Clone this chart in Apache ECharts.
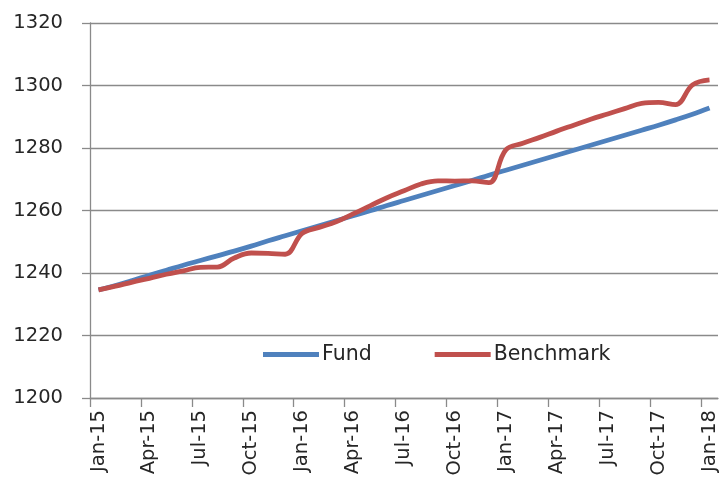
<!DOCTYPE html>
<html>
<head>
<meta charset="utf-8">
<script src="https://cdn.jsdelivr.net/npm/echarts@6/dist/echarts.min.js"></script>
<style>
  html, body { margin: 0; padding: 0; background: #fff; }
  #chart { width: 720px; height: 485px; }
</style>
</head>
<body>
<div id="chart"></div>
<script>
var months = [
  "Jan-15", "Feb-15", "Mar-15", "Apr-15", "May-15", "Jun-15", "Jul-15", "Aug-15", "Sep-15", "Oct-15", "Nov-15", "Dec-15",
  "Jan-16", "Feb-16", "Mar-16", "Apr-16", "May-16", "Jun-16", "Jul-16", "Aug-16", "Sep-16", "Oct-16", "Nov-16", "Dec-16",
  "Jan-17", "Feb-17", "Mar-17", "Apr-17", "May-17", "Jun-17", "Jul-17", "Aug-17", "Sep-17", "Oct-17", "Nov-17", "Dec-17",
  "Jan-18"
];
var tickLabels = ["Jan-15", "Apr-15", "Jul-15", "Oct-15", "Jan-16", "Apr-16", "Jul-16", "Oct-16", "Jan-17", "Apr-17", "Jul-17", "Oct-17", "Jan-18"];

var fund = [
  1234.6, 1236.0, 1237.6, 1239.3, 1240.9, 1242.5, 1244.0, 1245.5, 1247.0, 1248.6, 1250.3, 1251.9,
  1253.5, 1255.1, 1256.7, 1258.3, 1259.9, 1261.6, 1263.2, 1264.8, 1266.4, 1268.0, 1269.6, 1271.3,
  1272.9, 1274.5, 1276.1, 1277.7, 1279.3, 1280.9, 1282.5, 1284.1, 1285.7, 1287.3, 1289.0, 1290.8,
  1292.8
];
var benchmark = [
  1234.6, 1235.8, 1237.1, 1238.3, 1239.6, 1240.7, 1241.8, 1241.9, 1244.8, 1246.4, 1246.3, 1246.0,
  1252.7, 1254.6, 1256.4, 1258.9, 1261.5, 1264.1, 1266.3, 1268.5, 1269.5, 1269.4, 1269.5, 1268.9,
  1279.4, 1281.5, 1283.4, 1285.4, 1287.3, 1289.2, 1290.9, 1292.6, 1294.3, 1294.6, 1293.9, 1300.2,
  1301.8
];

var FONT = "DejaVu Sans";
var TEXT = "#262626";
var GRID = "#8a8a8a";

// points sit in the middle of each month slot, ticks on the month boundaries
function toPoints(arr) {
  return arr.map(function (v, i) { return [i + 0.5, v]; });
}
var tickPos = tickLabels.map(function (l) { return months.indexOf(l); });
var labelPos = tickPos.map(function (p) { return p + 0.5; });

var chart = echarts.init(document.getElementById("chart"));
chart.setOption({
  animation: false,
  textStyle: { fontFamily: FONT },
  grid: { left: 90, right: 2, top: 23, bottom: 87, containLabel: false },
  legend: {
    data: ["Fund", "Benchmark"],
    left: 258,
    top: 339,
    icon: "rect",
    itemWidth: 56,
    itemHeight: 5,
    itemGap: 63,
    textStyle: { fontFamily: FONT, fontSize: 20.5, color: TEXT, padding: [0, 0, 0, -2] }
  },
  xAxis: {
    type: "value",
    min: 0,
    max: months.length,
    splitLine: { show: false },
    axisLine: { show: true, lineStyle: { color: GRID, width: 1.3 } },
    axisTick: { show: true, length: 9, customValues: tickPos, lineStyle: { color: GRID, width: 1.3 } },
    axisLabel: {
      customValues: labelPos,
      rotate: 90,
      margin: 12,
      fontFamily: FONT,
      fontSize: 19.5,
      color: TEXT,
      formatter: function (v) { return months[Math.floor(v)]; }
    }
  },
  yAxis: {
    type: "value",
    min: 1200,
    max: 1320,
    interval: 20,
    axisLine: { show: true, lineStyle: { color: GRID, width: 1.3 } },
    axisTick: { show: true, length: 8, lineStyle: { color: GRID, width: 1.3 } },
    splitLine: { show: true, lineStyle: { color: GRID, width: 1.3 } },
    axisLabel: {
      margin: 27, fontFamily: FONT, fontSize: 19.5, color: TEXT,
      formatter: function (v) { return String(v); }
    }
  },
  series: [
    {
      name: "Fund",
      type: "line",
      data: toPoints(fund),
      showSymbol: false,
      symbol: "none",
      smooth: 0.4,
      lineStyle: { color: "#4F81BD", width: 4.8 },
      itemStyle: { color: "#4F81BD" }
    },
    {
      name: "Benchmark",
      type: "line",
      data: toPoints(benchmark),
      showSymbol: false,
      symbol: "none",
      smooth: 0.4,
      lineStyle: { color: "#C0504D", width: 4.8 },
      itemStyle: { color: "#C0504D" }
    }
  ]
});
</script>
</body>
</html>
